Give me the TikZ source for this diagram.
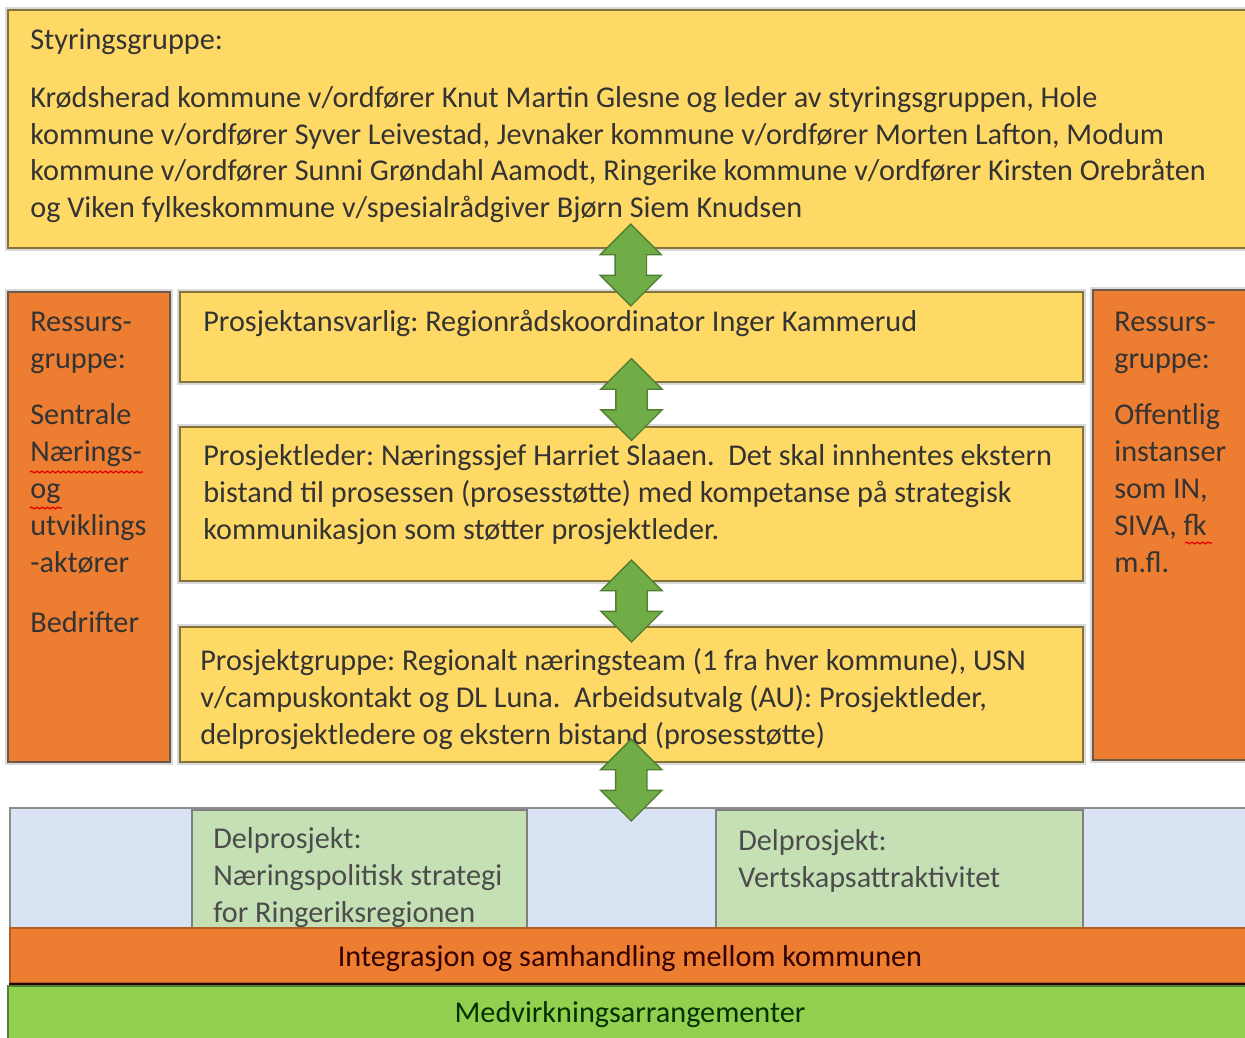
\documentclass[tikz,border=0pt]{standalone}
\usepackage{fontspec}
\setmainfont{Carlito}
\frenchspacing
\usetikzlibrary{fit,calc,shapes.arrows,decorations.pathmorphing}
\definecolor{gold}{HTML}{FFD966}
\definecolor{goldline}{HTML}{85733C}
\definecolor{orng}{HTML}{ED7D31}
\definecolor{orngline}{HTML}{6B5A4C}
\definecolor{paleblue}{HTML}{DAE3F3}
\definecolor{palegreen}{HTML}{C5E0B4}
\definecolor{lime}{HTML}{92D050}
\definecolor{limeline}{HTML}{548235}
\definecolor{arrgreen}{HTML}{70AD47}
\definecolor{arrline}{HTML}{507E32}
\definecolor{ink}{HTML}{333333}
\tikzset{
    box/.style={rectangle, inner sep=0pt, line width=1.2pt},
    halo/.style={preaction={draw=black!15, line width=3.5pt}},
    ybox/.style={box, halo, fill=gold, draw=goldline},
    obox/.style={box, halo, fill=orng, draw=orngline},
    bbox/.style={box, fill=paleblue, draw=black!45},
    gbox/.style={box, fill=palegreen, draw=black!50},
    txt/.style={inner sep=0pt, align=left, anchor=north west, text=ink,
        font=\fontsize{17.2}{21}\selectfont},
    updown/.style={double arrow, rotate=90, fill=arrgreen, draw=arrline, line width=0.8pt,
        minimum height=1.64cm, minimum width=1.2cm, double arrow head extend=0.3cm,
        inner xsep=0pt, inner ysep=0.3cm}
    ,squiggle/.style={red!90!black, line width=0.7pt, decorate,
        decoration={snake, amplitude=0.5pt, segment length=3pt}}
}
\begin{document}
\begin{tikzpicture}[x=0.02cm, y=-0.02cm]
        \useasboundingbox (0,0) rectangle (1245,1038);
        % boxes
        \node (styr) [ybox, fit={(8,10) (1252,248)}] {};
        \node (ressL) [obox, fit={(8,292) (170,762)}] {};
        \node (ressR) [obox, fit={(1093,290) (1252,760)}] {};
        \node (ansv) [ybox, fit={(180,292) (1083,382)}] {};
        \node (leder) [ybox, fit={(180,427) (1083,581)}] {};
        \node (pgrp) [ybox, fit={(180,627) (1083,762)}] {};
        \node (delbg) [bbox, fit={(10,808) (1252,928)}] {};
        \node (del1) [gbox, fit={(192,810) (527,928)}] {};
        \node (del2) [gbox, fit={(716,810) (1083,928)}] {};
        \node (integ) [box, fill=orng, draw=orng!75!black, fit={(10,928) (1252,983)}] {};
        \draw [line width=1.6pt, black!85!red] (integ.south west) -- (integ.south east);
        \node (medv) [box, fill=lime, draw=limeline, fit={(8,986) (1252,1045)}] {};
        % texts
        \node [txt] at (30,28) {Styringsgruppe:\\[12pt]
Krødsherad kommune v/ordfører Knut Martin Glesne og leder av styringsgruppen, Hole\\
kommune v/ordfører Syver Leivestad, Jevnaker kommune v/ordfører Morten Lafton, Modum\\
kommune v/ordfører Sunni Grøndahl Aamodt, Ringerike kommune v/ordfører Kirsten Orebråten\\
og Viken fylkeskommune v/spesialrådgiver Bjørn Siem Knudsen};
        \node [txt] at (30,312) {Ressurs-\\gruppe:\\[11pt]Sentrale\\Nærings-\\og\\utviklings\\-aktører\\[13pt]Bedrifter};
        \node [txt] at (1114,312) {Ressurs-\\gruppe:\\[11pt]Offentlig\\instanser\\som IN,\\SIVA, fk\\m.fl.};
        \node [txt] at (203,310) {Prosjektansvarlig: Regionrådskoordinator Inger Kammerud};
        \node [txt] at (203,444) {Prosjektleder: Næringssjef Harriet Slaaen.\ \ Det skal innhentes ekstern\\
bistand til prosessen (prosesstøtte) med kompetanse på strategisk\\
kommunikasjon som støtter prosjektleder.};
        \node [txt] at (200,648) {Prosjektgruppe: Regionalt næringsteam (1 fra hver kommune), USN\\
v/campuskontakt og DL Luna.\ \ Arbeidsutvalg (AU): Prosjektleder,\\
delprosjektledere og ekstern bistand (prosesstøtte)};
        \node [txt, text=black!70] at (213,827) {Delprosjekt:\\Næringspolitisk strategi\\for Ringeriksregionen};
        \node [txt, text=black!70] at (738,829) {Delprosjekt:\\Vertskapsattraktivitet};
        \node [txt, anchor=center, text=black!80!red] at (630,959) {Integrasjon og samhandling mellom kommunen};
        \node [txt, anchor=center, text=black!80!green] at (630,1015) {Medvirkningsarrangementer};
        % spelling marks
        \draw [squiggle] (30,472) -- (143,472);
        \draw [squiggle] (30,508) -- (62,508);
        \draw [squiggle] (1185,543) -- (1212,543);
        % arrows
        \node (a1) [updown] at ($(styr.south)!0.5!(ansv.north)+(0,-5)$) {};
        \node (a2) [updown] at ($(ansv.south)!0.5!(leder.north)+(0,-5)$) {};
        \node (a3) [updown] at ($(leder.south)!0.5!(pgrp.north)+(0,-3)$) {};
        \node (a4) [updown] at ($(pgrp.south)!0.5!(delbg.north)+(0,-5)$) {};
\end{tikzpicture}
\end{document}
